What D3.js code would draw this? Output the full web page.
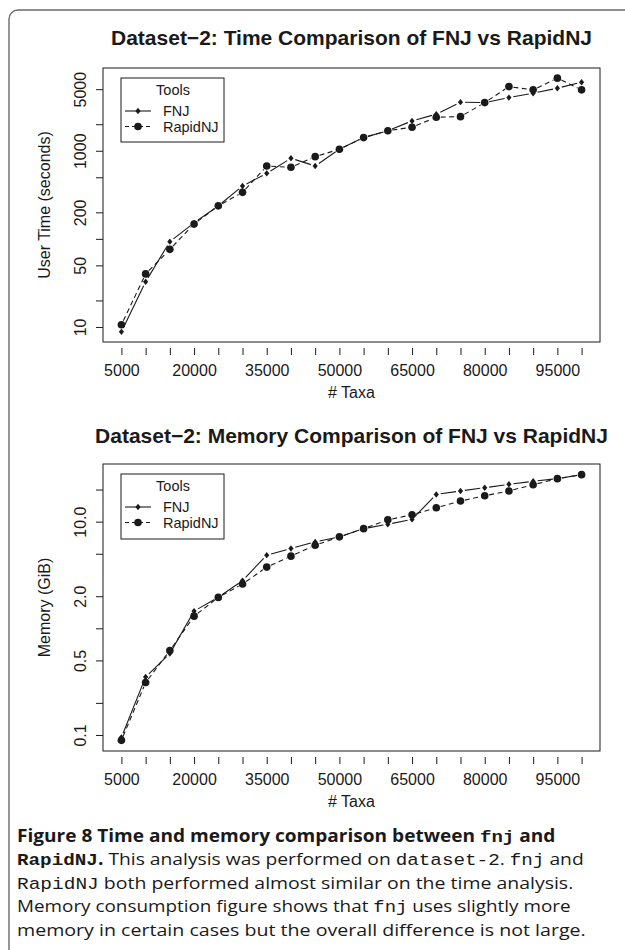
<!DOCTYPE html>
<html>
<head>
<meta charset="utf-8">
<script src="https://cdn.jsdelivr.net/npm/d3@7"></script>
<style>
  body { margin: 0; background: #fff; }
  svg { display: block; }
</style>
</head>
<body>
<div id="fig"></div>
<script>
// ---- data ----
var taxa = [5000, 10000, 15000, 20000, 25000, 30000, 35000, 40000, 45000, 50000,
            55000, 60000, 65000, 70000, 75000, 80000, 85000, 90000, 95000, 100000];

// user time (seconds)
var timeFNJ   = [8.8, 32.6, 93, 152, 237, 398, 554, 822, 671, 1040,
                 1410, 1690, 2180, 2600, 3560, 3520, 4010, 4500, 5130, 6000];
var timeRapid = [10.6, 40, 76, 147, 237, 337, 671, 649, 857, 1040,
                 1410, 1690, 1850, 2400, 2440, 3520, 5350, 4910, 6670, 4910];

// memory (GiB)
var memFNJ   = [0.095, 0.35, 0.58, 1.45, 1.95, 2.8, 4.85, 5.6, 6.46, 7.2,
                8.6, 9.46, 10.5, 18.0, 19.4, 20.8, 22.4, 23.9, 25.3, 27.6];
var memRapid = [0.089, 0.31, 0.62, 1.3, 1.95, 2.6, 3.75, 4.75, 6.0, 7.2,
                8.6, 10.4, 11.6, 13.5, 15.6, 17.5, 19.4, 22.2, 25.3, 27.6];

// axis ticks and their labels
var xTicks = d3.range(5000, 100001, 5000);
var xLabels = [5000, 20000, 35000, 50000, 65000, 80000, 95000];
var timeTicks = [10, 20, 50, 100, 200, 500, 1000, 2000, 5000];
var timeLabels = ["10", "", "50", "", "200", "", "1000", "", "5000"];
var memTicks = [0.1, 0.2, 0.5, 1, 2, 5, 10, 20];
var memLabels = ["0.1", "", "0.5", "", "2.0", "", "10.0", ""];

var toolNames = ["FNJ", "RapidNJ"];

// ---- page ----
var width = 625, height = 950;
var sans = "'Liberation Sans', Arial, Helvetica, sans-serif";
var ink = "#1a1a1a";

var svg = d3.select("#fig").append("svg")
    .attr("width", width)
    .attr("height", height);

// figure frame (runs off the right and bottom edges)
svg.append("rect")
    .attr("x", 9).attr("y", 10)
    .attr("width", 700).attr("height", 1000)
    .attr("rx", 9)
    .attr("fill", "none")
    .attr("stroke", "#6a6a6a")
    .attr("stroke-width", 1.4);

var plotLeft = 103, plotRight = 600;

// small filled diamond used by FNJ
function diamond(g, x, y) {
    g.append("path")
        .attr("d", "M" + x + "," + (y - 3.2) + "L" + (x + 2.6) + "," + y +
                   "L" + x + "," + (y + 3.2) + "L" + (x - 2.6) + "," + y + "Z")
        .attr("fill", ink);
}
function dot(g, x, y) {
    g.append("circle").attr("cx", x).attr("cy", y).attr("r", 3.8).attr("fill", ink);
}

function drawPanel(cfg) {
    var g = svg.append("g");

    var all = cfg.series[0].concat(cfg.series[1]);
    var lo = Math.log10(d3.min(all)), hi = Math.log10(d3.max(all));
    var ext = (hi - lo) * 0.04;

    var x = d3.scaleLinear()
        .domain([5000 - 95000 * 0.04, 100000 + 95000 * 0.04])
        .range([plotLeft, plotRight]);
    var y = d3.scaleLog()
        .domain([Math.pow(10, lo - ext), Math.pow(10, hi + ext)])
        .range([cfg.bottom, cfg.top]);

    // title
    g.append("text")
        .attr("x", (plotLeft + plotRight) / 2)
        .attr("y", cfg.titleY)
        .attr("text-anchor", "middle")
        .style("font-family", sans)
        .style("font-weight", "bold")
        .style("font-size", "21px")
        .attr("fill", ink)
        .text(cfg.title);

    // y axis with vertical labels
    var yAxis = d3.axisLeft(y)
        .tickValues(cfg.yTicks)
        .tickSize(7)
        .tickFormat(function(d, i) { return cfg.yLabels[i]; });
    var ya = g.append("g")
        .attr("transform", "translate(" + plotLeft + ",0)")
        .call(yAxis);
    ya.select(".domain").remove();
    ya.selectAll("line").attr("stroke", ink);
    ya.selectAll("text")
        .attr("transform", "rotate(-90)")
        .attr("x", 0).attr("y", -17).attr("dy", 0)
        .attr("text-anchor", "middle")
        .style("font-family", sans).style("font-size", "16px")
        .attr("fill", ink);

    // x axis, set a little below the box
    var xAxis = d3.axisBottom(x)
        .tickValues(xTicks)
        .tickSize(7)
        .tickFormat(function(d) { return xLabels.indexOf(d) >= 0 ? d : ""; });
    var xa = g.append("g")
        .attr("transform", "translate(0," + (cfg.bottom + 6) + ")")
        .call(xAxis);
    xa.select(".domain").remove();
    xa.selectAll("line").attr("stroke", ink);
    xa.selectAll("text")
        .attr("y", 28).attr("dy", 0)
        .style("font-family", sans).style("font-size", "16px")
        .attr("fill", ink);

    // axis titles
    g.append("text")
        .attr("x", (plotLeft + plotRight) / 2)
        .attr("y", cfg.bottom + 56)
        .attr("text-anchor", "middle")
        .style("font-family", sans).style("font-size", "16px")
        .attr("fill", ink)
        .text("# Taxa");
    g.append("text")
        .attr("transform", "translate(50," + (cfg.top + cfg.bottom) / 2 + ") rotate(-90)")
        .attr("text-anchor", "middle")
        .style("font-family", sans).style("font-size", "16px")
        .attr("fill", ink)
        .text(cfg.yTitle);

    // plot box
    g.append("rect")
        .attr("x", plotLeft).attr("y", cfg.top)
        .attr("width", plotRight - plotLeft)
        .attr("height", cfg.bottom - cfg.top)
        .attr("fill", "none")
        .attr("stroke", ink)
        .attr("stroke-width", 1);

    // lines drawn like R type="b": segments stop short of the points
    var gap = 4.5;
    cfg.series.forEach(function(vals, s) {
        var pts = vals.map(function(v, i) { return [x(taxa[i]), y(v)]; });
        for (var i = 0; i < pts.length - 1; i++) {
            var dx = pts[i + 1][0] - pts[i][0], dy = pts[i + 1][1] - pts[i][1];
            var len = Math.sqrt(dx * dx + dy * dy);
            if (len <= 2 * gap) continue;
            var ux = dx / len, uy = dy / len;
            g.append("line")
                .attr("x1", pts[i][0] + ux * gap).attr("y1", pts[i][1] + uy * gap)
                .attr("x2", pts[i + 1][0] - ux * gap).attr("y2", pts[i + 1][1] - uy * gap)
                .attr("stroke", ink)
                .attr("stroke-width", 1.1)
                .attr("stroke-dasharray", s === 1 ? "5,3.5" : null);
        }
        pts.forEach(function(p) {
            if (s === 0) diamond(g, p[0], p[1]); else dot(g, p[0], p[1]);
        });
    });

    // legend
    var L = cfg.legend;
    g.append("rect")
        .attr("x", 121).attr("y", L.top)
        .attr("width", 103).attr("height", L.h)
        .attr("fill", "#fff").attr("stroke", ink).attr("stroke-width", 1);
    g.append("text")
        .attr("x", 173).attr("y", L.top + 17)
        .attr("text-anchor", "middle")
        .style("font-family", sans).style("font-size", "14.5px")
        .attr("fill", ink)
        .text("Tools");
    toolNames.forEach(function(name, i) {
        var ry = L.top + 33 + i * 15.5;
        g.append("line")
            .attr("x1", 125).attr("x2", 151)
            .attr("y1", ry).attr("y2", ry)
            .attr("stroke", ink).attr("stroke-width", 1.1)
            .attr("stroke-dasharray", i === 1 ? "4,3" : null);
        if (i === 0) diamond(g, 138, ry); else dot(g, 138, ry);
        g.append("text")
            .attr("x", 163).attr("y", ry + 5)
            .style("font-family", sans).style("font-size", "14.5px")
            .attr("fill", ink)
            .text(name);
    });
}

drawPanel({
    title: "Dataset\u22122: Time Comparison of FNJ vs RapidNJ",
    titleY: 45,
    top: 68, bottom: 342,
    yTitle: "User Time (seconds)",
    yTicks: timeTicks, yLabels: timeLabels,
    series: [timeFNJ, timeRapid],
    legend: { top: 78, h: 64 }
});

drawPanel({
    title: "Dataset\u22122: Memory Comparison of FNJ vs RapidNJ",
    titleY: 443,
    top: 464, bottom: 751,
    yTitle: "Memory (GiB)",
    yTicks: memTicks, yLabels: memLabels,
    series: [memFNJ, memRapid],
    legend: { top: 474, h: 65 }
});

// ---- caption ----
var capSans = "'Open Sans', 'Noto Sans', sans-serif";
var capMono = "'Liberation Mono', 'DejaVu Sans Mono', monospace";
var caption = [
    [["Figure 8 Time and memory comparison between ", "sb"], ["fnj", "mb"], [" and", "sb"]],
    [["RapidNJ", "mb"], [".", "sb"], [" This analysis was performed on ", "s"], ["dataset-2", "m"],
     [". ", "s"], ["fnj", "m"], [" and", "s"]],
    [["RapidNJ", "m"], [" both performed almost similar on the time analysis.", "s"]],
    [["Memory consumption figure shows that ", "s"], ["fnj", "m"], [" uses slightly more", "s"]],
    [["memory in certain cases but the overall difference is not large.", "s"]]
];
var capEnds = [556, 584, 574, 571, 586];
var capX = 17;

caption.forEach(function(parts, li) {
    var t = svg.append("text")
        .attr("x", 0).attr("y", 0)
        .attr("fill", ink)
        .style("font-size", "17px");
    parts.forEach(function(p) {
        t.append("tspan")
            .style("font-family", p[1].charAt(0) === "m" ? capMono : capSans)
            .style("font-weight", p[1].charAt(1) === "b" ? "bold" : "normal")
            .style("font-size", p[1].charAt(0) === "m" ? "17px" : "17px")
            .attr("xml:space", "preserve")
            .text(p[0]);
    });
    t.style("white-space", "pre");
    var w = t.node().getComputedTextLength();
    var k = (capEnds[li] - capX) / w;
    t.attr("transform", "translate(" + capX + "," + (842 + li * 23.4) + ") scale(" + k + ",1)");
});
</script>
</body>
</html>
